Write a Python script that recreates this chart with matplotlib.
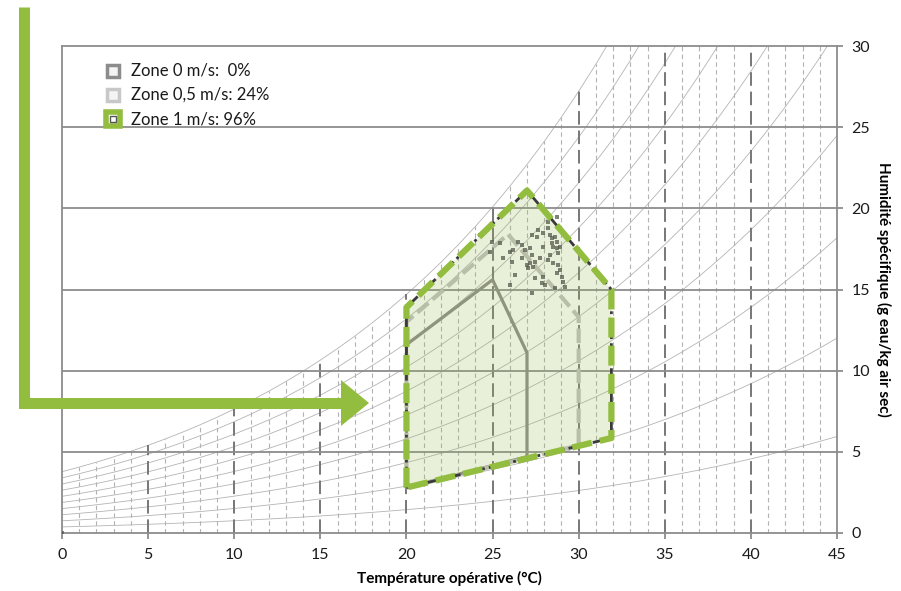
import numpy as np
import matplotlib
matplotlib.use("Agg")
import matplotlib.pyplot as plt
from matplotlib.lines import Line2D
from matplotlib.patches import Polygon

plt.rcParams["font.family"] = ["Lato", "DejaVu Sans"]

# --- données -------------------------------------------------------------
TEMP = np.arange(0, 46)
# pression de vapeur saturante (kPa) pour 0..45 °C
P_SAT = [0.6112, 0.6571, 0.7060, 0.7580, 0.8135, 0.8725, 0.9353, 1.0020,
         1.0729, 1.1481, 1.2280, 1.3128, 1.4026, 1.4979, 1.5987, 1.7055,
         1.8185, 1.9380, 2.0643, 2.1979, 2.3389, 2.4878, 2.6448, 2.8105,
         2.9852, 3.1693, 3.3633, 3.5674, 3.7823, 4.0084, 4.2462, 4.4961,
         4.7586, 5.0345, 5.3242, 5.6280, 5.9468, 6.2812, 6.6315, 6.9988,
         7.3838, 7.7866, 8.2081, 8.6495, 9.1110, 9.5935]
P_ATM = 101.325
RH_LEVELS = [10, 20, 30, 40, 50, 60, 70, 80, 90, 100]

# zones de confort (T °C, humidité g/kg)
ZONE0_T = [20, 20, 25, 27, 27, 20]
ZONE0_W = [2.8, 11.6, 15.6, 11.1, 4.7, 2.8]
ZONE05_T = [20, 20, 25.9, 30, 30, 20]
ZONE05_W = [2.8, 13.0, 18.4, 13.3, 5.4, 2.8]
ZONE1_T = [20, 20, 27, 31.9, 31.9, 20]
ZONE1_W = [2.8, 13.9, 21.1, 15.0, 5.85, 2.8]

# points mesurés
PTS_T = [27.66, 27.56, 27.27, 27.95, 28.24, 28.34, 28.43, 28.63, 28.73, 28.43,
         28.53, 28.73, 28.92, 28.82, 28.34, 28.24, 28.53, 28.82, 28.92, 28.73,
         29.02, 29.11, 29.21, 28.63, 27.95, 27.85, 28.05, 27.47, 27.27, 26.98,
         27.18, 27.08, 27.37, 27.27, 27.18, 26.89, 26.69, 26.50, 26.21, 26.02,
         26.11, 26.31, 26.02, 25.63, 25.44, 24.85, 24.95, 24.27, 28.73, 28.24,
         27.95, 27.76, 27.47, 26.69, 0.0]
PTS_W = [18.67, 18.26, 18.36, 18.46, 18.77, 18.36, 18.15, 18.26, 17.95, 17.85,
         17.64, 17.54, 17.64, 17.23, 17.13, 16.82, 16.62, 16.51, 16.20, 16.00,
         15.79, 15.49, 15.18, 15.07, 15.79, 15.38, 15.28, 15.69, 14.77, 16.51,
         16.62, 16.31, 16.41, 17.13, 17.54, 17.44, 17.75, 17.95, 17.44, 17.33,
         16.72, 15.90, 15.28, 16.92, 17.85, 17.33, 17.95, 18.36, 19.49, 19.18,
         17.64, 16.92, 16.72, 16.92, 0.0]

LEGEND = ["Zone 0 m/s:  0%", "Zone 0,5 m/s: 24%", "Zone 1 m/s: 96%"]

GREEN = "#93bd3f"
GRID = "#8c8c8c"


def humid(rh):
    p = np.array(P_SAT) * rh / 100.0
    return 622.0 * p / (P_ATM - p)


fig = plt.figure(figsize=(9.01, 5.91), dpi=100)
ax = fig.add_axes([62 / 901, 1 - 533 / 591, 775 / 901, 487 / 591])
ax.set_xlim(0, 45)
ax.set_ylim(0, 30)

# courbes d'humidité relative
for rh in RH_LEVELS:
    ax.plot(TEMP, humid(rh), color="#b4b4b4", lw=0.6, zorder=1)

# verticales pointillées jusqu'à la saturation
w_sat = humid(100)
for t in TEMP[1:-1]:
    top = min(w_sat[t], 30)
    if t % 5 == 0:
        ax.plot([t, t], [0, top], color="#777777", lw=1.4, ls=(0, (7, 3)), zorder=1)
    else:
        ax.plot([t, t], [0, top], color="#b2b2b2", lw=0.8, ls=(0, (4, 3)), zorder=1)

for y in range(5, 30, 5):
    ax.axhline(y, color=GRID, lw=1.3, zorder=2)

# zones
ax.fill(ZONE1_T, ZONE1_W, color="#9bbb59", alpha=0.22, lw=0, zorder=2)
ax.plot(ZONE0_T, ZONE0_W, color="#8f947d", lw=2.3, zorder=3)
ax.plot(ZONE05_T, ZONE05_W, color="#b9bea9", lw=3.0, ls=(0, (3.5, 1.3)), zorder=3)
ax.scatter(PTS_T, PTS_W, marker="s", s=6, color="#555a4d", alpha=0.75, lw=0, zorder=4)
ax.plot(ZONE1_T, ZONE1_W, color="#3a3a3a", lw=2.0, ls=(0, (1, 1.5, 5, 1.5)), zorder=5)
ax.plot(ZONE1_T, ZONE1_W, color=GREEN, lw=4.5, ls=(0, (3.2, 1.3)),
        dash_capstyle="butt", zorder=6)

# axes
for s in ax.spines.values():
    s.set_color(GRID)
    s.set_linewidth(1.3)
ax.set_xticks(range(0, 46, 5))
ax.set_yticks(range(0, 31, 5))
ax.yaxis.tick_right()
ax.yaxis.set_label_position("right")
ax.tick_params(axis="both", length=4.5, width=1.3, color=GRID, labelsize=11.5,
               labelcolor="#1a1a1a", pad=6)
ax.set_xlabel("Température opérative (°C)", fontsize=11, fontweight="bold", labelpad=7)
ax.set_ylabel("Humidité spécifique (g eau/kg air sec)", fontsize=11,
              fontweight="bold", rotation=-90, labelpad=15)

# légende
leg_x, leg_tx = 0.0658, 0.089
leg_y = [0.9487, 0.8994, 0.850]
edges = ["#8c8c8c", "#c8c8c8", GREEN]
for lab, y, ec, i in zip(LEGEND, leg_y, edges, range(3)):
    if i < 2:
        ax.add_line(Line2D([leg_x], [y], marker="s", ms=8.5, mfc="#f4f4f4", mec=ec,
                           mew=2.5, transform=ax.transAxes, clip_on=False, zorder=7))
    else:
        ax.add_line(Line2D([leg_x], [y], marker="s", ms=10, mfc="#ffffff", mec=ec,
                           mew=4, transform=ax.transAxes, clip_on=False, zorder=7))
        ax.add_line(Line2D([leg_x], [y], marker="s", ms=4, mfc="#ffffff", mec="#555555",
                           mew=1, transform=ax.transAxes, clip_on=False, zorder=8))
    ax.text(leg_tx, y, lab, transform=ax.transAxes, fontsize=12, va="center",
            ha="left", color="#1a1a1a", zorder=8)

# flèche verte
ov = fig.add_axes([0, 0, 1, 1])
ov.set_xlim(0, 901)
ov.set_ylim(591, 0)
ov.axis("off")
ov.patch.set_visible(False)
ov.plot([23.5, 23.5, 342], [7, 402.5, 402.5], color=GREEN, lw=11 * 0.72,
        solid_joinstyle="miter", solid_capstyle="butt")
ov.add_patch(Polygon([(341, 380), (369, 403), (341, 426)], closed=True,
                     color=GREEN, lw=0))

fig.savefig("out.png", dpi=100)
